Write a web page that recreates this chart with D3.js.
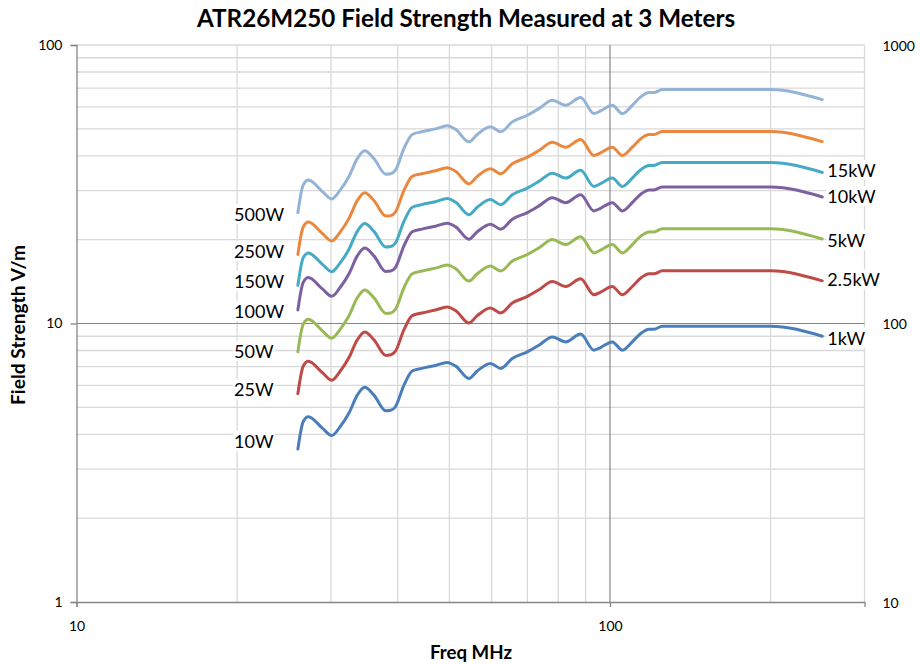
<!DOCTYPE html>
<html>
<head>
<meta charset="utf-8">
<script src="https://cdn.jsdelivr.net/npm/d3@7"></script>
<style>
  html, body { margin: 0; padding: 0; background: #fff; }
  svg { display: block; font-family: Lato, "Liberation Sans", sans-serif; }
</style>
</head>
<body>
<svg id="chart" width="920" height="664"></svg>
<script>
// ---------------- data ----------------
const freqMHz = [26, 26.6, 27.2, 28.9, 30.1, 31.2, 32.4, 33.6, 34.7, 36.1, 38.0, 38.8, 39.6, 41.1, 42.6, 44.4, 47.1, 49.5, 51.4, 54.4, 56.4, 59.7, 62.4, 65.6, 70.0, 73.6, 78.0, 82.6, 88.1, 93.3, 96.0, 101, 105.5, 110.1, 114.2, 118.4, 120.9, 125.3, 200, 250];

const v10W  = [3.54, 4.44, 4.63, 4.21, 3.96, 4.26, 4.76, 5.53, 5.90, 5.53, 4.86, 4.88, 5.02, 6.01, 6.75, 6.90, 7.07, 7.25, 7.03, 6.35, 6.75, 7.19, 6.90, 7.49, 7.91, 8.36, 8.95, 8.59, 9.16, 8.02, 8.20, 8.59, 8.02, 8.59, 9.21, 9.54, 9.54, 9.78, 9.78, 9.00];
const v25W  = [5.60, 7.02, 7.32, 6.66, 6.26, 6.74, 7.53, 8.74, 9.33, 8.74, 7.68, 7.72, 7.94, 9.50, 10.67, 10.91, 11.18, 11.46, 11.12, 10.04, 10.67, 11.37, 10.91, 11.84, 12.51, 13.22, 14.15, 13.58, 14.48, 12.68, 12.97, 13.58, 12.68, 13.58, 14.56, 15.08, 15.08, 15.46, 15.46, 14.23];
const v50W  = [7.92, 9.93, 10.35, 9.41, 8.85, 9.53, 10.64, 12.37, 13.19, 12.37, 10.87, 10.91, 11.23, 13.44, 15.09, 15.43, 15.81, 16.21, 15.72, 14.20, 15.09, 16.08, 15.43, 16.75, 17.69, 18.69, 20.01, 19.21, 20.48, 17.93, 18.34, 19.21, 17.93, 19.21, 20.59, 21.33, 21.33, 21.87, 21.87, 20.12];
const v100W = [11.19, 14.04, 14.64, 13.31, 12.52, 13.47, 15.05, 17.49, 18.66, 17.49, 15.37, 15.43, 15.87, 19.01, 21.35, 21.82, 22.36, 22.93, 22.23, 20.08, 21.35, 22.74, 21.82, 23.69, 25.01, 26.44, 28.30, 27.16, 28.97, 25.36, 25.93, 27.16, 25.36, 27.16, 29.12, 30.17, 30.17, 30.93, 30.93, 28.46];
const v150W = [13.71, 17.20, 17.93, 16.31, 15.34, 16.50, 18.44, 21.42, 22.85, 21.42, 18.82, 18.90, 19.44, 23.28, 26.14, 26.72, 27.38, 28.08, 27.23, 24.59, 26.14, 27.85, 26.72, 29.01, 30.64, 32.38, 34.66, 33.27, 35.48, 31.06, 31.76, 33.27, 31.06, 33.27, 35.67, 36.95, 36.95, 37.88, 37.88, 34.86];
const v250W = [17.70, 22.20, 23.15, 21.05, 19.80, 21.30, 23.80, 27.65, 29.50, 27.65, 24.30, 24.40, 25.10, 30.05, 33.75, 34.50, 35.35, 36.25, 35.15, 31.75, 33.75, 35.95, 34.50, 37.45, 39.55, 41.80, 44.75, 42.95, 45.80, 40.10, 41.00, 42.95, 40.10, 42.95, 46.05, 47.70, 47.70, 48.90, 48.90, 45.00];
const v500W = [25.03, 31.40, 32.74, 29.77, 28.00, 30.12, 33.66, 39.10, 41.72, 39.10, 34.37, 34.51, 35.50, 42.50, 47.73, 48.79, 49.99, 51.27, 49.71, 44.90, 47.73, 50.84, 48.79, 52.96, 55.93, 59.11, 63.29, 60.74, 64.77, 56.71, 57.98, 60.74, 56.71, 60.74, 65.12, 67.46, 67.46, 69.16, 69.16, 63.64];

const leftLabels  = ["10W", "25W", "50W", "100W", "150W", "250W", "500W"];
const rightLabels = ["1kW", "2.5kW", "5kW", "10kW", "15kW", "", ""];
const seriesValues = [v10W, v25W, v50W, v100W, v150W, v250W, v500W];
const seriesColors = ["#4A7EBB", "#BE4B48", "#98B954", "#7D60A0", "#46AAC5", "#E9883E", "#95B3D7"];

const xTicks = [10, 100];
const yLeftTicks = [1, 10, 100];
const yRightTicks = [10, 100, 1000];

const titleText = "ATR26M250 Field Strength Measured at 3 Meters";
const xTitle = "Freq MHz";
const yTitle = "Field Strength V/m";

// ---------------- layout ----------------
const svg = d3.select("#chart");
const plot = { left: 76.5, right: 864.5, top: 45, bottom: 602 };

const x = d3.scaleLog().domain([10, 300]).range([plot.left, plot.right]);
const y = d3.scaleLog().domain([1, 100]).range([plot.bottom, plot.top]);
const y2 = d3.scaleLog().domain([10, 1000]).range([plot.bottom, plot.top]);

const minorGrid = "#D9D9D9";
const majorGrid = "#878787";

// gridlines
const gx = svg.append("g");
const minorX = [20, 30, 40, 50, 60, 70, 80, 90, 200];
gx.selectAll("line.mx").data(minorX).join("line")
  .attr("x1", d => x(d)).attr("x2", d => x(d))
  .attr("y1", plot.top).attr("y2", plot.bottom)
  .attr("stroke", minorGrid).attr("stroke-width", 1.3);
const minorY = [2, 3, 4, 5, 6, 7, 8, 9, 20, 30, 40, 50, 60, 70, 80, 90, 100];
gx.selectAll("line.my").data(minorY).join("line")
  .attr("x1", plot.left).attr("x2", plot.right)
  .attr("y1", d => y(d)).attr("y2", d => y(d))
  .attr("stroke", minorGrid).attr("stroke-width", 1.3);
gx.append("line").attr("x1", plot.right).attr("x2", plot.right)
  .attr("y1", plot.top).attr("y2", plot.bottom)
  .attr("stroke", minorGrid).attr("stroke-width", 1.3);
gx.append("line").attr("x1", x(100)).attr("x2", x(100))
  .attr("y1", plot.top).attr("y2", plot.bottom)
  .attr("stroke", majorGrid).attr("stroke-width", 1.2);
gx.append("line").attr("x1", plot.left).attr("x2", plot.right)
  .attr("y1", y(10)).attr("y2", y(10))
  .attr("stroke", majorGrid).attr("stroke-width", 1.2);

// axes
const xAxis = d3.axisBottom(x).tickValues(xTicks).tickFormat(d3.format("d")).tickSize(5).tickPadding(14);
const gxa = svg.append("g").attr("transform", `translate(0,${plot.bottom})`).call(xAxis);
const yAxis = d3.axisLeft(y).tickValues(yLeftTicks).tickFormat(d3.format("d")).tickSize(6).tickPadding(8);
const gya = svg.append("g").attr("transform", `translate(${plot.left},0)`).call(yAxis);
const y2Axis = d3.axisRight(y2).tickValues(yRightTicks).tickFormat(d3.format("d")).tickSize(0).tickPadding(18);
const gy2a = svg.append("g").attr("transform", `translate(${plot.right},0)`).call(y2Axis);
gy2a.select(".domain").remove();
gy2a.selectAll("text").attr("dy", "0.65em").attr("transform", "translate(0,-4)");
[gxa, gya].forEach(g => {
  g.select(".domain").attr("stroke", majorGrid).attr("stroke-width", 1.3);
  g.selectAll(".tick line").attr("stroke", majorGrid).attr("stroke-width", 1.3);
});
[gxa, gya, gy2a].forEach(g => {
  g.selectAll("text").attr("fill", "#000").style("font-size", "14px")
   .style("font-family", "Lato, 'Liberation Sans', sans-serif");
});

// series lines
const line = d3.line()
  .x((d, i) => x(freqMHz[i]))
  .y(d => y(d))
  .curve(d3.curveMonotoneX);
svg.append("g").selectAll("path").data(seriesValues).join("path")
  .attr("d", d => line(d))
  .attr("fill", "none")
  .attr("stroke", (d, i) => seriesColors[i])
  .attr("stroke-width", 3)
  .attr("stroke-linejoin", "round")
  .attr("stroke-linecap", "round");

// labels with white background
function boxedLabel(g, tx, ty, txt, anchor) {
  const t = g.append("text").attr("x", tx).attr("y", ty)
    .attr("dy", "0.35em").attr("text-anchor", anchor)
    .style("font-size", "18px").attr("fill", "#000").text(txt);
  const b = t.node().getBBox();
  g.insert("rect", "text").attr("x", b.x - 1).attr("y", b.y + 1)
    .attr("width", b.width + 2).attr("height", b.height - 2).attr("fill", "#fff");
  t.raise();
}
const labG = svg.append("g");
const leftLabelX = x(20) - 3;
const leftLabelY = [441.7, 390, 351.7, 311.7, 281.7, 251.7, 215];
leftLabels.forEach((l, i) => boxedLabel(labG, leftLabelX, leftLabelY[i], l, "start"));
const rightLabelX = x(250) + 5;
const rightLabelY = [338.3, 280, 240.7, 196.7, 170.7];
rightLabels.forEach((l, i) => {
  if (!l) return;
  boxedLabel(labG, rightLabelX, rightLabelY[i], l, "start");
});

// titles
const title = svg.append("text").attr("x", 466).attr("y", 19).attr("dy", "0.35em")
  .attr("text-anchor", "middle").style("font-size", "20px").style("font-weight", "bold")
  .attr("fill", "#000").text(titleText);
const tw = title.node().getComputedTextLength();
title.style("font-size", (20 * 538 / tw).toFixed(2) + "px");

const xt = svg.append("text").attr("x", 471).attr("y", 652).attr("dy", "0.35em")
  .attr("text-anchor", "middle").style("font-size", "16px").style("font-weight", "bold")
  .attr("fill", "#000").text(xTitle);
const yt = svg.append("text").attr("transform", "translate(18,325) rotate(-90)")
  .attr("dy", "0.35em").attr("text-anchor", "middle")
  .style("font-size", "16px").style("font-weight", "bold").attr("fill", "#000").text(yTitle);
const yw = yt.node().getComputedTextLength();
yt.style("font-size", (16 * 160 / yw).toFixed(2) + "px");
const xw = xt.node().getComputedTextLength();
xt.style("font-size", (16 * 82 / xw).toFixed(2) + "px");
</script>
</body>
</html>
